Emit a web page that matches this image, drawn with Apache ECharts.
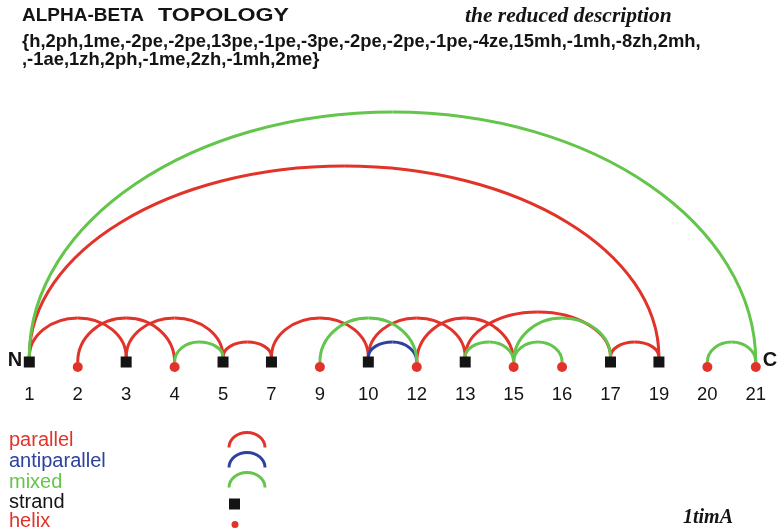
<!DOCTYPE html>
<html><head><meta charset="utf-8">
<script src="https://cdn.jsdelivr.net/npm/echarts@6/dist/echarts.min.js"></script>
<style>html,body{margin:0;padding:0;background:#fff}#c{width:784px;height:532px}</style>
</head><body><div id="c"></div>
<script>
// ---- data ----
const nodeLabels = ['1','2','3','4','5','7','9','10','12','13','15','16','17','19','20','21'];
const nodeTypes  = ['strand','helix','strand','helix','strand','strand','helix','strand','helix','strand','helix','helix','strand','strand','helix','helix'];
const arcFrom = ['1','2','3','5','7','10','12','13','17','1', '10', '4','9','13','15','15','20','1'];
const arcTo   = ['3','4','5','7','10','13','15','17','19','19','12', '5','12','15','17','16','21','21'];
const arcKind = ['parallel','parallel','parallel','parallel','parallel','parallel','parallel','parallel','parallel','parallel',
                 'antiparallel','mixed','mixed','mixed','mixed','mixed','mixed','mixed'];
const arcRise = [44,44,44,20,44,44,44,50,20,196, 20, 20,44,20,44,20,20,250];
const legendNames = ['parallel','antiparallel','mixed','strand','helix'];
const titleWords = ['ALPHA-BETA', 'TOPOLOGY'];
const subtitleText = 'the reduced description';
const descLines = ['{h,2ph,1me,-2pe,-2pe,13pe,-1pe,-3pe,-2pe,-2pe,-1pe,-4ze,15mh,-1mh,-8zh,2mh,',
                   ',-1ae,1zh,2ph,-1me,2zh,-1mh,2me}'];
const pdbId = '1timA';

// ---- styles ----
const RED = '#e1332a', BLUE = '#2c41a0', GREEN = '#63c54b', BLACK = '#141414';
const kindColor = {parallel: RED, antiparallel: BLUE, mixed: GREEN};
const kinds = ['parallel','antiparallel','mixed'];
const STRAND_LIFT = 5;
const K = 0.5523;

const idx = l => nodeLabels.indexOf(l);
const arcData = arcFrom.map((f, i) => [idx(f), idx(arcTo[i]), arcRise[i], kinds.indexOf(arcKind[i])]);
const strandData = [], helixData = [], labelData = [];
nodeTypes.forEach((t, i) => {
  (t === 'strand' ? strandData : helixData).push([i, 0]);
  labelData.push({value: [i, 0], name: nodeLabels[i]});
});

const chart = echarts.init(document.getElementById('c'));
const sans = '"Liberation Sans", Arial, sans-serif';
const serif = '"Liberation Serif", "Times New Roman", serif';

// two quarter-ellipse bezier pieces from p1 up to top pt and down to p2
function arcPieces(p1, pt, p2, color, lw) {
  const rx1 = pt[0] - p1[0], rx2 = p2[0] - pt[0];
  const st = {stroke: color, fill: null, lineWidth: lw};
  return [
    {type: 'bezierCurve', silent: true, shape: {x1: p1[0], y1: p1[1], cpx1: p1[0], cpy1: p1[1] - K * (p1[1] - pt[1]),
      cpx2: pt[0] - K * rx1, cpy2: pt[1], x2: pt[0], y2: pt[1]}, style: st},
    {type: 'bezierCurve', silent: true, shape: {x1: pt[0], y1: pt[1], cpx1: pt[0] + K * rx2, cpy1: pt[1],
      cpx2: p2[0], cpy2: p2[1] - K * (p2[1] - pt[1]), x2: p2[0], y2: p2[1]}, style: st}
  ];
}

const legendColors = [RED, BLUE, GREEN, BLACK, RED];
const legendY = [440, 461, 482, 502, 521];
const graphics = [
  {type: 'text', x: 22, y: 16, style: {text: titleWords[0], font: `bold 19px ${sans}`, fill: BLACK, verticalAlign: 'middle'}},
  {type: 'text', x: 158, y: 16, scaleX: 1.22, style: {text: titleWords[1], font: `bold 19px ${sans}`, fill: BLACK, verticalAlign: 'middle'}},
  {type: 'text', x: 465, y: 16, style: {text: subtitleText, font: `italic bold 21.5px ${serif}`, fill: BLACK, verticalAlign: 'middle'}},
  {type: 'text', x: 22, y: 42, style: {text: descLines[0], font: `bold 18.4px ${sans}`, fill: BLACK, verticalAlign: 'middle'}},
  {type: 'text', x: 22, y: 60, style: {text: descLines[1], font: `bold 18.4px ${sans}`, fill: BLACK, verticalAlign: 'middle'}},
  {type: 'text', x: 15, y: 360, style: {text: 'N', font: `bold 20px ${sans}`, fill: BLACK, align: 'center', verticalAlign: 'middle'}},
  {type: 'text', x: 770, y: 360, style: {text: 'C', font: `bold 20px ${sans}`, fill: BLACK, align: 'center', verticalAlign: 'middle'}},
  {type: 'text', x: 683, y: 518, style: {text: pdbId, font: `italic bold 20px ${serif}`, fill: BLACK, verticalAlign: 'middle'}}
];
legendNames.forEach((n, i) => {
  graphics.push({type: 'text', x: 9, y: legendY[i], style: {text: n, font: `20px ${sans}`, fill: legendColors[i], verticalAlign: 'middle'}});
});
[[440, RED], [460, BLUE], [480, GREEN]].forEach(([cy, c]) => {
  arcPieces([229, cy + 7.5], [247, cy - 7.5], [265, cy + 7.5], c, 3).forEach(g => graphics.push(g));
});
graphics.push({type: 'rect', shape: {x: 229, y: 498.5, width: 11, height: 11}, style: {fill: BLACK}});
graphics.push({type: 'circle', shape: {cx: 235, cy: 524.5, r: 3.5}, style: {fill: RED}});

chart.setOption({
  animation: false,
  backgroundColor: '#fff',
  grid: {left: 29.3, width: 726.5, top: 62, height: 470, containLabel: false, outerBoundsMode: 'none'},
  xAxis: {type: 'value', min: 0, max: nodeLabels.length - 1, interval: 1,
    splitLine: {show: false}, axisTick: {show: false}, axisLine: {show: false}, axisLabel: {show: false}},
  yAxis: {type: 'value', min: -170, max: 300, interval: 10,
    axisLine: {show: false}, axisTick: {show: false}, axisLabel: {show: false}, splitLine: {show: false}},
  graphic: graphics,
  series: [
    {type: 'custom', z: 2, clip: false, data: arcData, encode: {x: [0, 1], y: 2},
      renderItem: (params, api) => {
        const i1 = api.value(0), i2 = api.value(1), rise = api.value(2), kind = kinds[api.value(3)];
        const y1 = nodeTypes[i1] === 'strand' ? STRAND_LIFT : 0;
        const y2 = nodeTypes[i2] === 'strand' ? STRAND_LIFT : 0;
        const p1 = api.coord([i1, y1]), p2 = api.coord([i2, y2]), pt = api.coord([(i1 + i2) / 2, rise]);
        return {type: 'group', children: arcPieces(p1, pt, p2, kindColor[kind], 3)};
      }},
    {type: 'scatter', z: 3, data: strandData, symbol: 'rect', symbolSize: 11, itemStyle: {color: BLACK, opacity: 1}, silent: true},
    {type: 'scatter', z: 3, data: helixData, symbol: 'circle', symbolSize: 10, symbolOffset: [0, 5], itemStyle: {color: RED, opacity: 1}, silent: true},
    {type: 'scatter', z: 1, data: labelData, symbol: 'circle', symbolSize: 2, silent: true,
      itemStyle: {color: 'rgba(255,255,255,0)', opacity: 1},
      label: {show: true, position: 'bottom', distance: 22, formatter: p => p.name, opacity: 1,
        fontSize: 18.5, fontFamily: sans, color: BLACK}, labelLayout: {hideOverlap: false}}
  ]
});
</script></body></html>
